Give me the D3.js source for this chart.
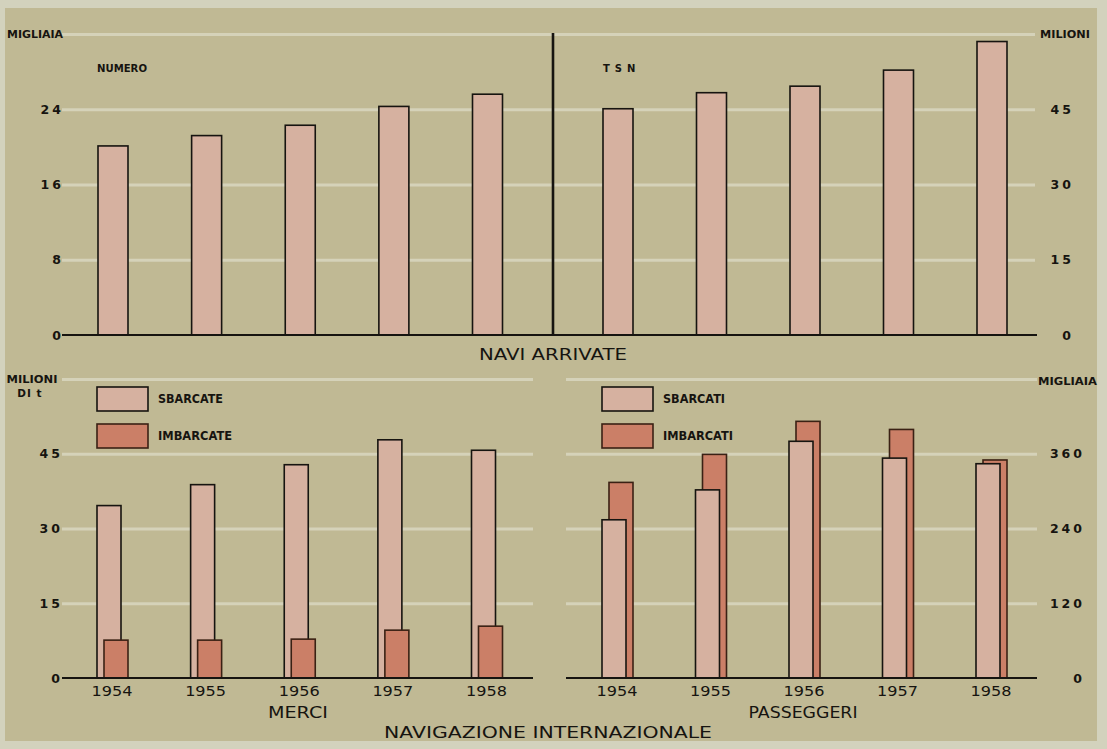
<!DOCTYPE html>
<html><head><meta charset="utf-8">
<script src="https://cdn.jsdelivr.net/npm/d3@7"></script>
<style>body{margin:0;background:#d3d2bd}svg{display:block}</style>
</head><body><svg id="c" width="1107" height="749"></svg>
<script>
// ---- data ----
const years = ["1954", "1955", "1956", "1957", "1958"];
const naviNumero = [20.1, 21.2, 22.3, 24.3, 25.6];      // migliaia
const naviTsn = [45.1, 48.3, 49.6, 52.8, 58.5];         // milioni TSN
const merciSbarcate = [34.6, 38.8, 42.8, 47.8, 45.7];   // milioni di t
const merciImbarcate = [7.6, 7.6, 7.8, 9.6, 10.4];
const passSbarcati = [254, 302, 380, 353, 344];         // migliaia
const passImbarcati = [314, 359, 412, 399, 350];
const ticksNumero = [0, 8, 16, 24, 32];
const ticksTsn = [0, 15, 30, 45, 60];
const ticksMerci = [0, 15, 30, 45, 60];
const ticksPass = [0, 120, 240, 360, 480];

const svg = d3.select("#c");
const BG = "#c0b994", GRID = "#d5d2b9", LIGHT = "#d6b1a0", DARK = "#cb7f67", INK = "#161410";
const FONT = "'DejaVu Sans', sans-serif";

svg.append("rect").attr("width", 1107).attr("height", 749).attr("fill", "#d3d2bd");
svg.append("rect").attr("x", 5).attr("y", 8).attr("width", 1092).attr("height", 733).attr("fill", BG);

// ---- scales ----
const xL = d3.scalePoint().domain(years).range([113, 487.5]);
const xR = d3.scalePoint().domain(years).range([618, 992]);
const yNum = d3.scaleLinear().domain([0, 32]).range([335, 34]);
const yTsn = d3.scaleLinear().domain([0, 60]).range([335, 34]);
const yMer = d3.scaleLinear().domain([0, 60]).range([678, 379]);
const yPas = d3.scaleLinear().domain([0, 480]).range([678, 379]);

function grid(y, vals, x0, x1) {
  svg.append("g").attr("transform", `translate(${x0},0)`)
    .call(d3.axisRight(y).tickValues(vals).tickSize(x1 - x0).tickFormat(""))
    .call(a => a.select(".domain").remove())
    .selectAll("line").attr("stroke", GRID).attr("stroke-width", 3);
}
function ticks(y, vals, x) {
  const g = svg.append("g").attr("transform", `translate(${x},0)`)
    .call(d3.axisLeft(y).tickValues(vals).tickSize(0).tickPadding(0).tickFormat(d3.format("d")));
  g.select(".domain").remove();
  g.selectAll("text").attr("font-family", FONT).attr("font-weight", "bold")
    .attr("font-size", 12.5).attr("letter-spacing", 3).attr("fill", INK)
    .attr("text-anchor", "end").attr("dx", 3);
}
function label(txt, x, y, opts = {}) {
  const t = svg.append("text").attr("x", x).attr("y", y).text(txt)
    .attr("font-family", FONT).attr("fill", INK)
    .attr("font-size", opts.size || 10.5).attr("font-weight", opts.weight || "bold")
    .attr("text-anchor", opts.anchor || "start").attr("dominant-baseline", "middle");
  if (opts.len) t.attr("textLength", opts.len).attr("lengthAdjust", "spacingAndGlyphs");
  if (opts.ls) t.attr("letter-spacing", opts.ls);
  return t;
}

// ---- gridlines ----
grid(yNum, ticksNumero.slice(1), 62, 553);
grid(yTsn, ticksTsn.slice(1), 553, 1035);
grid(yMer, ticksMerci.slice(1), 62, 533);
grid(yPas, ticksPass.slice(1), 566, 1037);

// ---- bars ----
function bars(data, x, y, w, off, fill, stroke) {
  svg.append("g").selectAll("rect").data(years).join("rect")
    .attr("x", d => x(d) + off).attr("width", w)
    .attr("y", (d, i) => y(data[i])).attr("height", (d, i) => y(0) - y(data[i]))
    .attr("fill", fill).attr("stroke", stroke).attr("stroke-width", 1.6);
}
bars(naviNumero, xL, yNum, 30, -15, LIGHT, INK);
bars(naviTsn, xR, yTsn, 30, -15, LIGHT, INK);
bars(merciSbarcate, xL, yMer, 24, -16, LIGHT, INK);
bars(merciImbarcate, xL, yMer, 24, -9, DARK, "#3a2114");
bars(passImbarcati, xR, yPas, 24, -9, DARK, "#3a2114");
bars(passSbarcati, xR, yPas, 24, -16, LIGHT, INK);

// ---- baselines & divider ----
const base = (x0, x1, y) => svg.append("line").attr("x1", x0).attr("x2", x1).attr("y1", y).attr("y2", y)
  .attr("stroke", INK).attr("stroke-width", 2);
base(62, 1037, yNum(0));
base(62, 533, yMer(0));
base(566, 1037, yPas(0));
svg.append("line").attr("x1", 553).attr("x2", 553).attr("y1", 33).attr("y2", yNum(0))
  .attr("stroke", INK).attr("stroke-width", 2.6);

// ---- tick labels ----
ticks(yNum, ticksNumero.slice(0, 4), 61);
ticks(yTsn, ticksTsn.slice(0, 4), 1071);
ticks(yMer, ticksMerci.slice(0, 4), 60);
ticks(yPas, ticksPass.slice(0, 4), 1082);

// ---- unit labels ----
label("MIGLIAIA", 7, yNum(32) + 1, {len: 56});
label("MILIONI", 1040, yTsn(60) + 1, {len: 50});
label("MILIONI", 32, 380, {len: 51, anchor: "middle"});
label("DI t", 30, 394, {anchor: "middle", ls: 1});
label("MIGLIAIA", 1038, 382, {len: 59});
label("NUMERO", 97, 69, {len: 50, size: 10});
label("TSN", 603, 69, {size: 10, ls: 5});

// ---- legends ----
function legend(x, y, fill, stroke, txt, len) {
  svg.append("rect").attr("x", x).attr("y", y).attr("width", 51).attr("height", 24)
    .attr("fill", fill).attr("stroke", stroke).attr("stroke-width", 1.6);
  label(txt, x + 61, y + 12, {len: len, size: 11.5});
}
legend(97, 387, LIGHT, INK, "SBARCATE", 65);
legend(97, 424, DARK, "#3a2114", "IMBARCATE", 74);
legend(602, 387, LIGHT, INK, "SBARCATI", 62);
legend(602, 424, DARK, "#3a2114", "IMBARCATI", 70);

// ---- x labels ----
function yearLabels(x) {
  svg.append("g").selectAll("text").data(years).join("text")
    .attr("x", d => x(d) - 1).attr("y", 692).text(d => d)
    .attr("font-family", FONT).attr("font-size", 14.5).attr("fill", INK)
    .attr("text-anchor", "middle").attr("dominant-baseline", "middle")
    .attr("textLength", 41).attr("lengthAdjust", "spacingAndGlyphs");
}
yearLabels(xL);
yearLabels(xR);

label("NAVI ARRIVATE", 553, 355, {size: 15.5, weight: "normal", anchor: "middle", len: 148});
label("MERCI", 298, 713, {size: 15.5, weight: "normal", anchor: "middle", len: 60});
label("PASSEGGERI", 803, 713, {size: 15.5, weight: "normal", anchor: "middle", len: 109});
label("NAVIGAZIONE INTERNAZIONALE", 548, 733, {size: 16, weight: "normal", anchor: "middle", len: 328});
</script></body></html>
